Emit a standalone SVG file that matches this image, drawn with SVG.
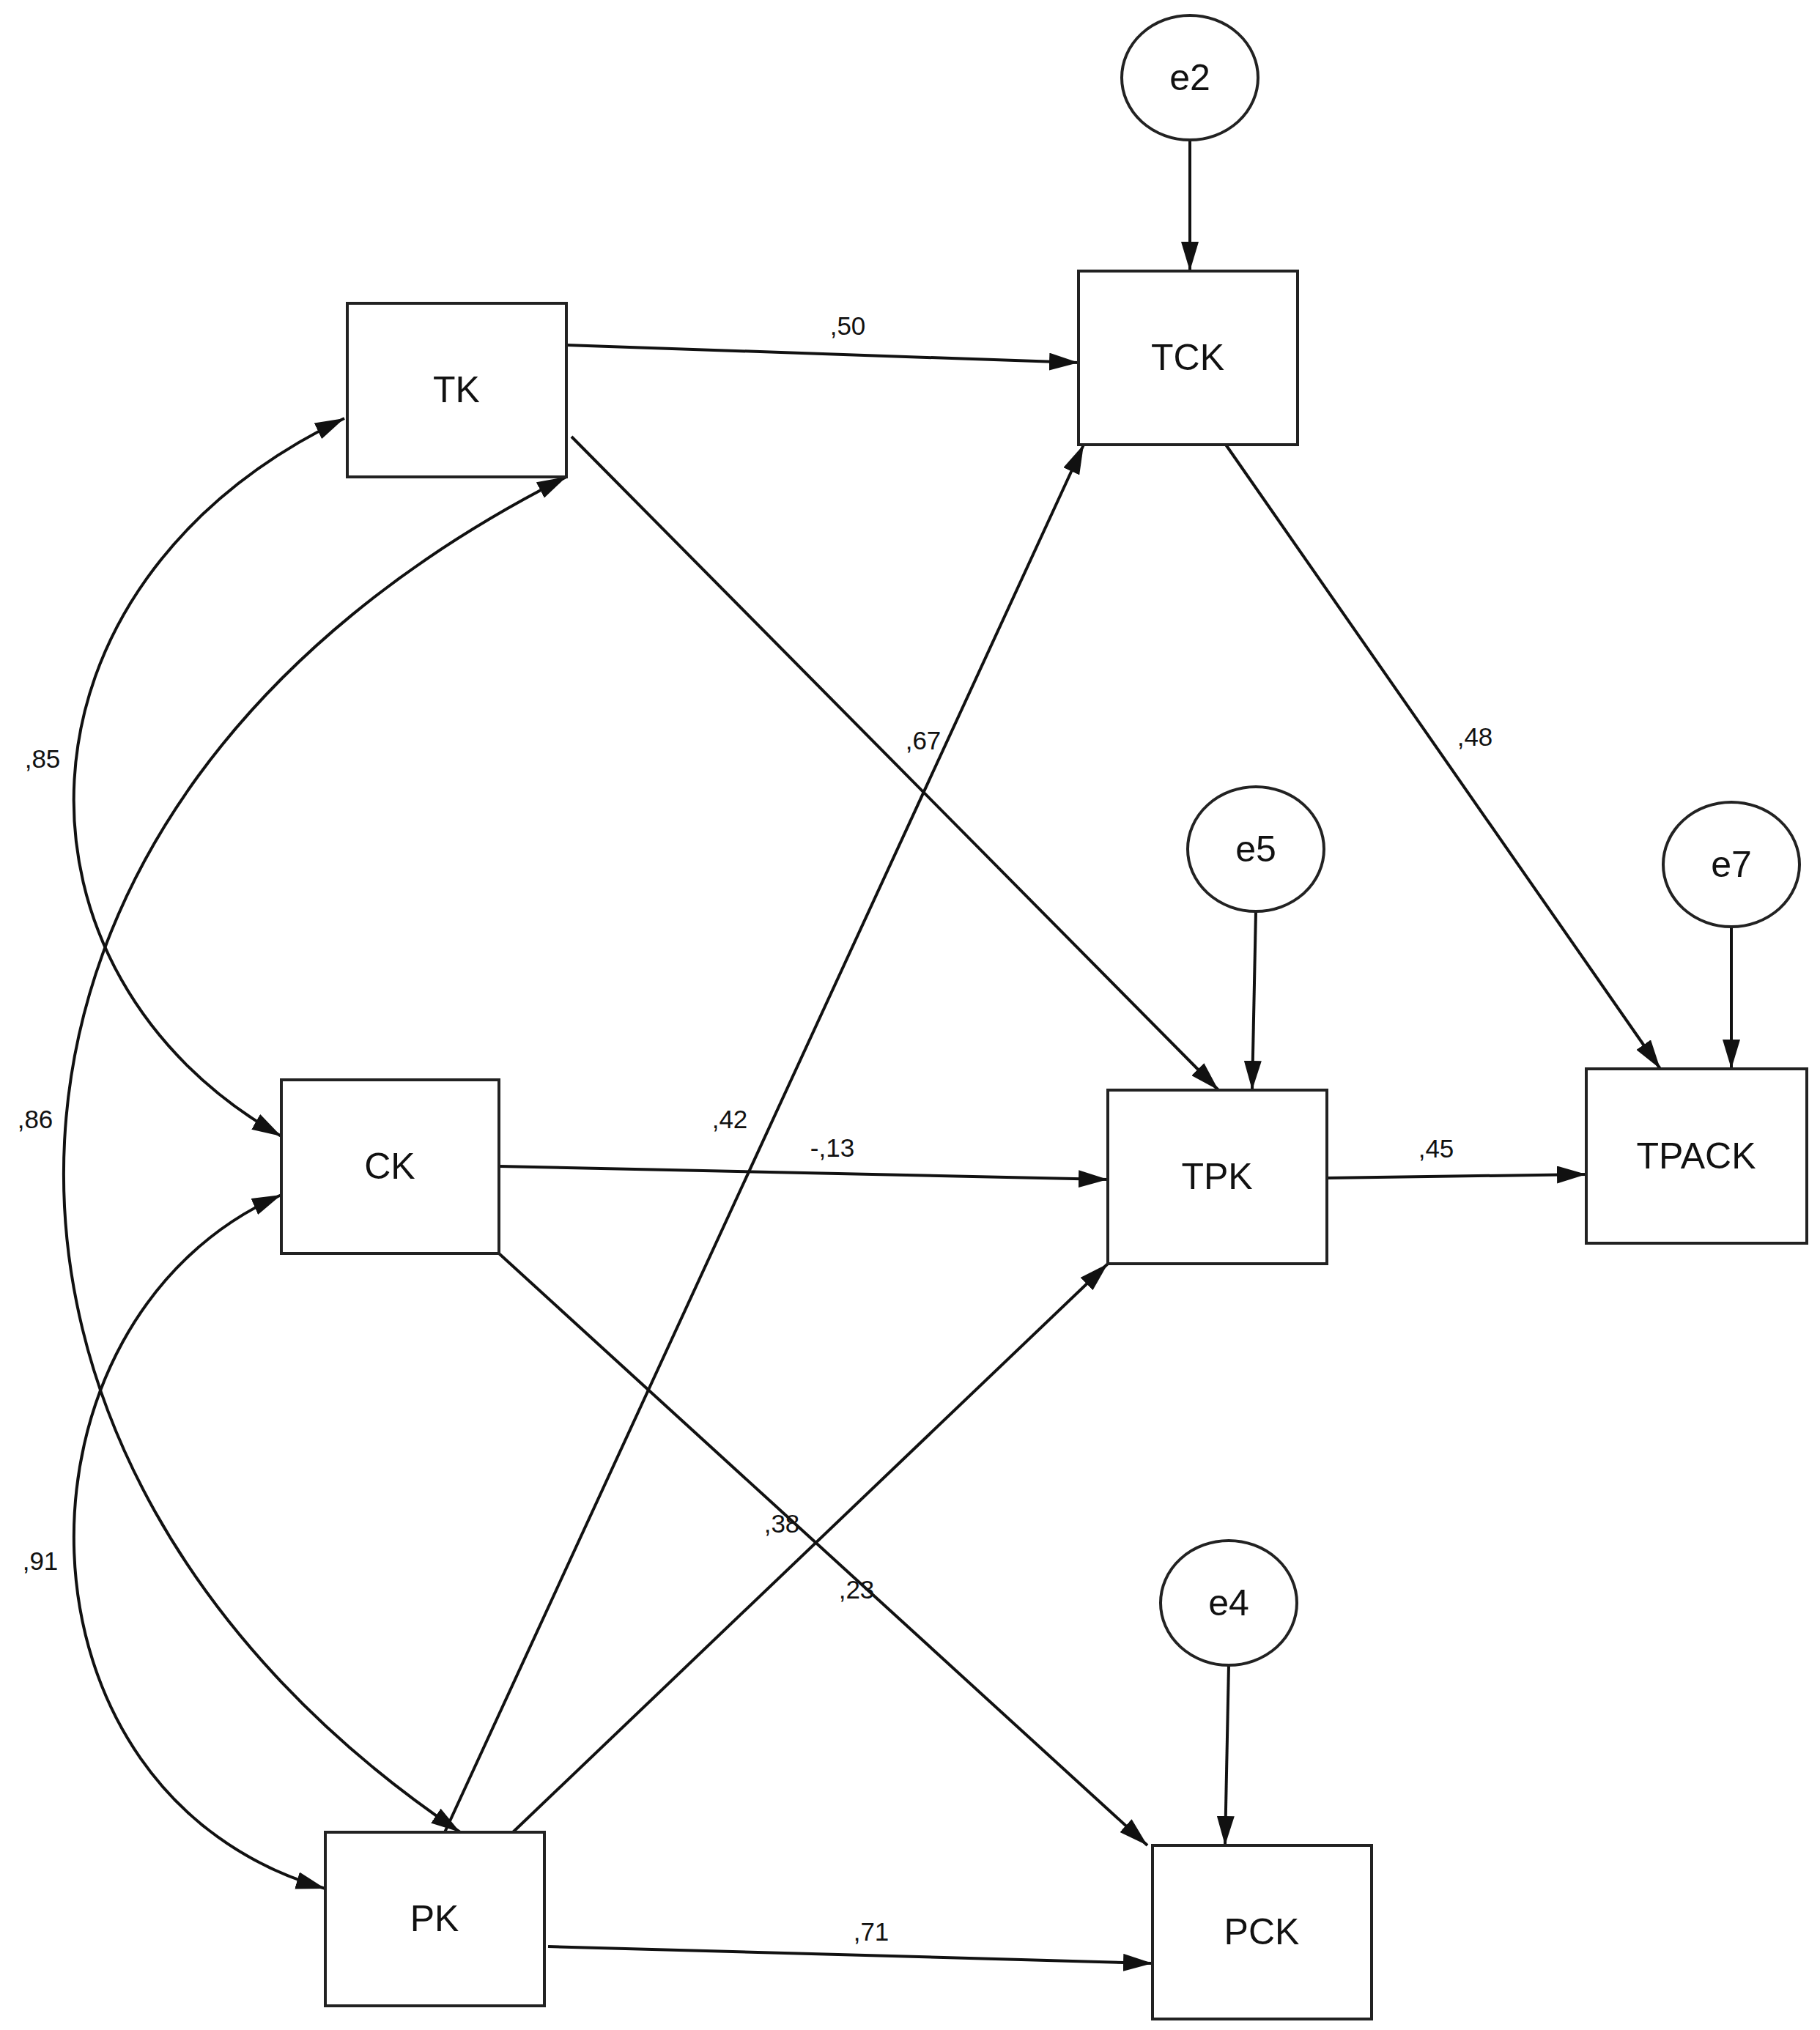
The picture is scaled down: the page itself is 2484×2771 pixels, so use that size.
<svg xmlns="http://www.w3.org/2000/svg" width="2484" height="2771" viewBox="0 0 2484 2771">
<style>
.n{fill:#fff;stroke:#222;stroke-width:4}
.t{font-family:"Liberation Sans",Arial,sans-serif;font-size:50px;text-anchor:middle;dominant-baseline:central;fill:#111}
.l{font-family:"Liberation Sans",Arial,sans-serif;font-size:35px;text-anchor:middle;dominant-baseline:central;fill:#111}
.c{fill:none;stroke:#111;stroke-width:4}
</style>
<defs>
<marker id="a" viewBox="0 0 10 10" refX="10" refY="5" markerWidth="13" markerHeight="10" markerUnits="userSpaceOnUse" orient="auto-start-reverse" style="overflow:visible"><path d="M0,0 L10,5 L0,10 z" fill="#111" transform="scale(1)"/></marker>
<marker id="b" viewBox="0 0 40 24" refX="40" refY="12" markerWidth="40" markerHeight="24" markerUnits="userSpaceOnUse" orient="auto-start-reverse"><path d="M0,0 L40,12 L0,24 z" fill="#111"/></marker>
</defs>
<rect width="2484" height="2771" fill="#fff"/>
<g id="connectors">
<path class="c" marker-end="url(#b)" d="M1624,191 L1624,370"/>
<path class="c" marker-end="url(#b)" d="M1714,1244 L1709,1488"/>
<path class="c" marker-end="url(#b)" d="M2363,1265 L2363,1459"/>
<path class="c" marker-end="url(#b)" d="M1677,2273 L1672,2519"/>
<path class="c" marker-end="url(#b)" d="M773,471 L1472,495"/>
<path class="c" marker-end="url(#b)" d="M780,596 L1663,1488"/>
<path class="c" marker-end="url(#b)" d="M1673,607 L2266,1459"/>
<path class="c" marker-end="url(#b)" d="M681,1592 L1512,1610"/>
<path class="c" marker-end="url(#b)" d="M1811,1608 L2165,1603"/>
<path class="c" marker-end="url(#b)" d="M681,1711 L1566,2519"/>
<path class="c" marker-end="url(#b)" d="M607,2501 L1479,607"/>
<path class="c" marker-end="url(#b)" d="M700,2501 L1512,1725"/>
<path class="c" marker-end="url(#b)" d="M748,2657 L1573,2680"/>
<path class="c" marker-start="url(#b)" marker-end="url(#b)" d="M470,571 C-7,800 -7,1330 384,1551"/>
<path class="c" marker-start="url(#b)" marker-end="url(#b)" d="M773,651 C-116,1100 -116,2000 628,2501"/>
<path class="c" marker-start="url(#b)" marker-end="url(#b)" d="M384,1631 C-3,1800 -3,2450 444,2578"/>
<text class="l" x="1157" y="444">,50</text>
<text class="l" x="1260" y="1010">,67</text>
<text class="l" x="2013" y="1005">,48</text>
<text class="l" x="58" y="1035">,85</text>
<text class="l" x="48" y="1527">,86</text>
<text class="l" x="996" y="1527">,42</text>
<text class="l" x="1136" y="1566">-,13</text>
<text class="l" x="1960" y="1567">,45</text>
<text class="l" x="55" y="2130">,91</text>
<text class="l" x="1067" y="2079">,38</text>
<text class="l" x="1169" y="2169">,23</text>
<text class="l" x="1189" y="2636">,71</text>
</g>
<g id="TK"><rect class="n" x="474" y="414" width="299" height="237"/><text class="t" x="623" y="532">TK</text></g>
<g id="TCK"><rect class="n" x="1472" y="370" width="299" height="237"/><text class="t" x="1621" y="488">TCK</text></g>
<g id="CK"><rect class="n" x="384" y="1474" width="297" height="237"/><text class="t" x="532" y="1592">CK</text></g>
<g id="TPK"><rect class="n" x="1512" y="1488" width="299" height="237"/><text class="t" x="1661" y="1606">TPK</text></g>
<g id="TPACK"><rect class="n" x="2165" y="1459" width="301" height="238"/><text class="t" x="2315" y="1578">TPACK</text></g>
<g id="PK"><rect class="n" x="444" y="2501" width="299" height="237"/><text class="t" x="593" y="2619">PK</text></g>
<g id="PCK"><rect class="n" x="1573" y="2519" width="299" height="237"/><text class="t" x="1722" y="2637">PCK</text></g>
<g id="e2"><ellipse class="n" cx="1624" cy="106" rx="93" ry="85"/><text class="t" x="1624" y="106">e2</text></g>
<g id="e5"><ellipse class="n" cx="1714" cy="1159" rx="93" ry="85"/><text class="t" x="1714" y="1159">e5</text></g>
<g id="e7"><ellipse class="n" cx="2363" cy="1180" rx="93" ry="85"/><text class="t" x="2363" y="1180">e7</text></g>
<g id="e4"><ellipse class="n" cx="1677" cy="2188" rx="93" ry="85"/><text class="t" x="1677" y="2188">e4</text></g>
</svg>
